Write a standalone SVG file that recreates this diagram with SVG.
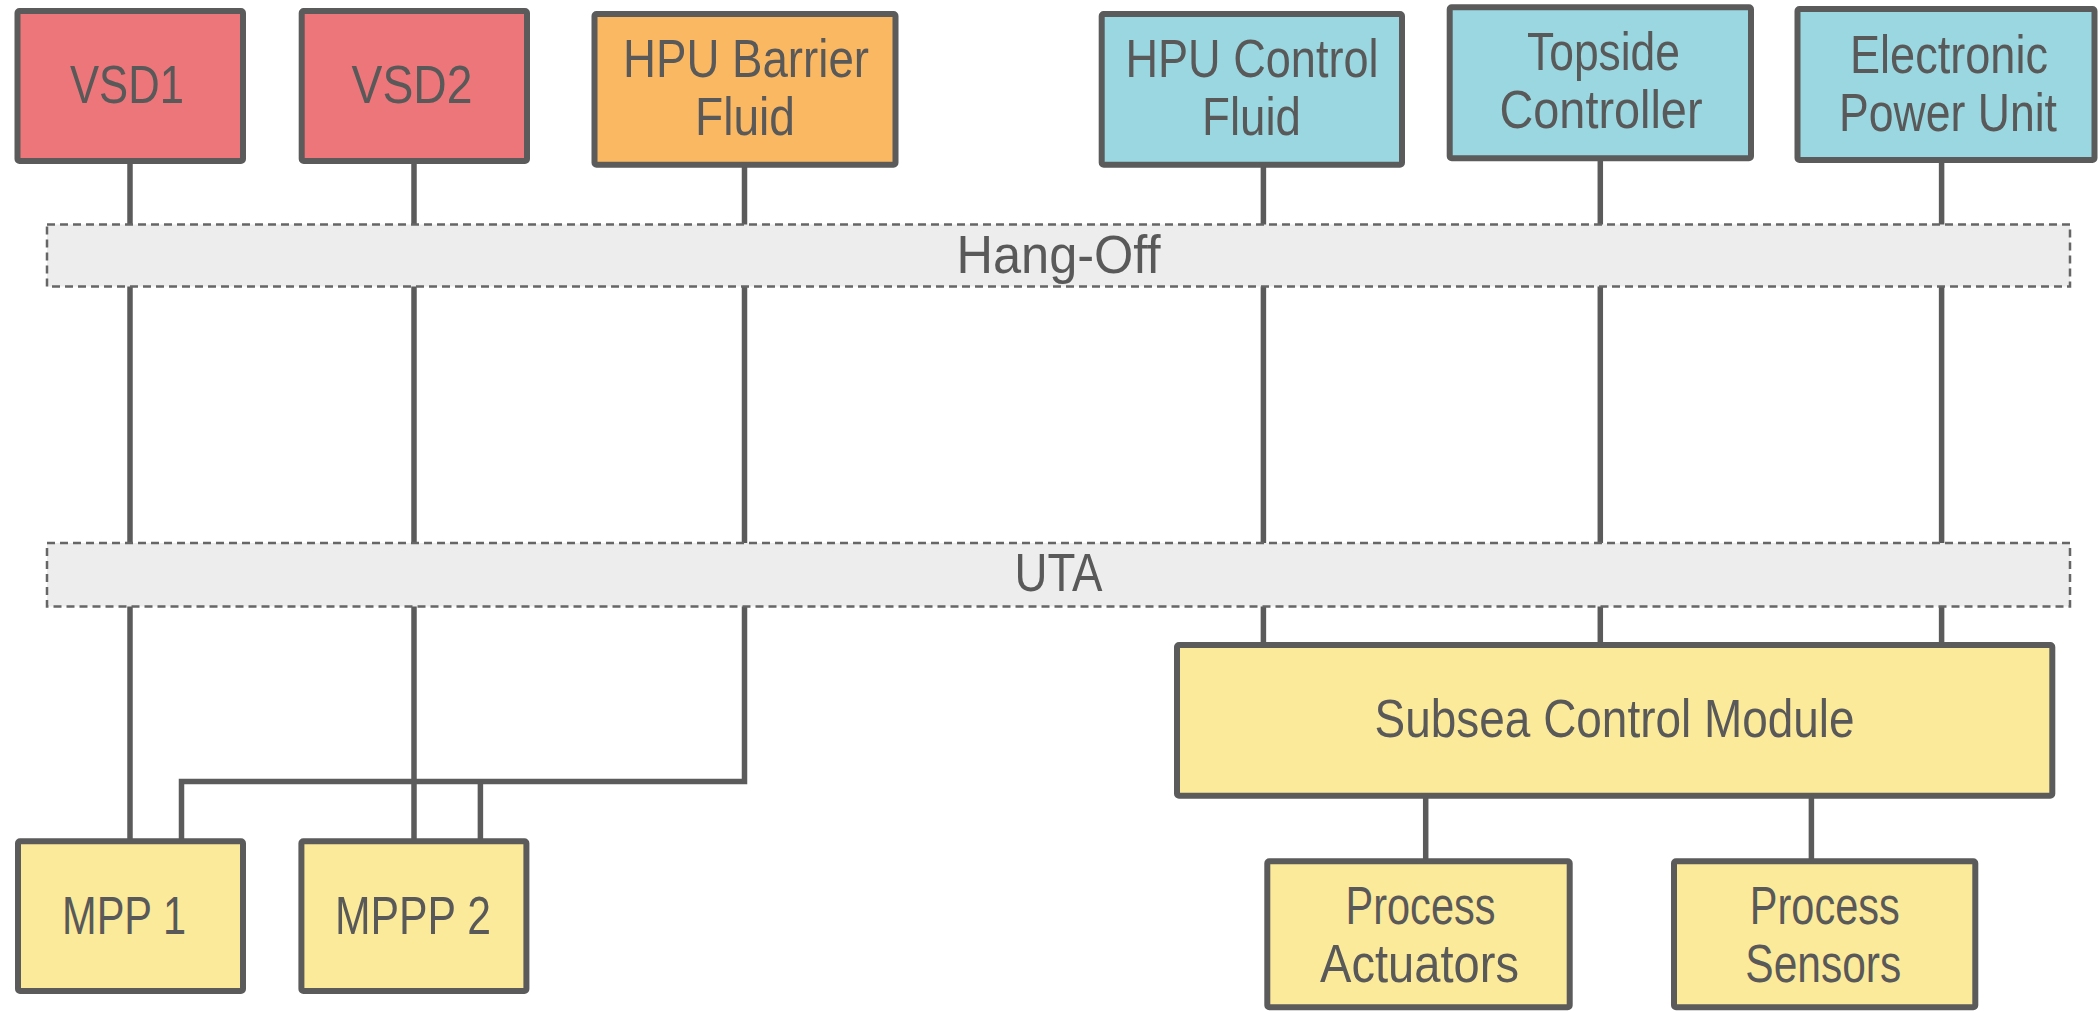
<svg xmlns="http://www.w3.org/2000/svg" width="2098" height="1011" viewBox="0 0 2098 1011">
  <style>
    .box { stroke: #5b5b5b; stroke-width: 6; stroke-linejoin: round; }
    .red { fill: #ec767a; }
    .orange { fill: #fbb862; }
    .blue { fill: #9ad7e0; }
    .yellow { fill: #fcea9b; }
    .band { fill: #ededed; stroke: #666666; stroke-width: 2.5; stroke-dasharray: 8 5; }
    .wire { fill: none; stroke: #5b5b5b; stroke-width: 5.5; stroke-linejoin: miter; }
    .lbl { font-family: "Liberation Sans", Arial, sans-serif; font-size: 54px; fill: #595959; text-anchor: middle; }
  </style>
  <rect width="2098" height="1011" fill="#ffffff"/>

  <!-- wiring between units, drawn first so the bands cover it -->
  <g id="connectors">
    <path class="wire" d="M130 163 V839"/>
    <path class="wire" d="M414 163 V839"/>
    <path class="wire" d="M744.5 167 V781.5 H181.5 V839"/>
    <path class="wire" d="M480.4 781.5 V839"/>
    <path class="wire" d="M1263.4 167 V645"/>
    <path class="wire" d="M1600.3 161 V645"/>
    <path class="wire" d="M1941.6 163 V645"/>
    <path class="wire" d="M1425.7 798 V861"/>
    <path class="wire" d="M1811.4 798 V861"/>
  </g>

  <g id="hang-off">
    <rect class="band" x="47" y="224.5" width="2023" height="62"/>
    <text class="lbl" x="1058.5" y="273" textLength="204" lengthAdjust="spacingAndGlyphs">Hang-Off</text>
  </g>
  <g id="uta">
    <rect class="band" x="47" y="543" width="2023" height="63.5"/>
    <text class="lbl" x="1058.5" y="591" textLength="88" lengthAdjust="spacingAndGlyphs">UTA</text>
  </g>

  <g id="vsd1">
    <rect class="box red" x="17.5" y="11" width="225.5" height="150" rx="2"/>
    <text class="lbl" x="127" y="103" textLength="114" lengthAdjust="spacingAndGlyphs">VSD1</text>
  </g>
  <g id="vsd2">
    <rect class="box red" x="301.7" y="11" width="225.3" height="150" rx="2"/>
    <text class="lbl" x="412" y="103" textLength="121" lengthAdjust="spacingAndGlyphs">VSD2</text>
  </g>
  <g id="hpu-barrier-fluid">
    <rect class="box orange" x="594.5" y="14" width="301" height="150.7" rx="2"/>
    <text class="lbl" x="746" y="77" textLength="246" lengthAdjust="spacingAndGlyphs">HPU Barrier</text>
    <text class="lbl" x="745" y="135" textLength="100" lengthAdjust="spacingAndGlyphs">Fluid</text>
  </g>
  <g id="hpu-control-fluid">
    <rect class="box blue" x="1101.7" y="14" width="300.3" height="150.7" rx="2"/>
    <text class="lbl" x="1252" y="77" textLength="253" lengthAdjust="spacingAndGlyphs">HPU Control</text>
    <text class="lbl" x="1251.5" y="135" textLength="99" lengthAdjust="spacingAndGlyphs">Fluid</text>
  </g>
  <g id="topside-controller">
    <rect class="box blue" x="1449.7" y="7.3" width="301.3" height="151" rx="2"/>
    <text class="lbl" x="1603.5" y="70" textLength="153" lengthAdjust="spacingAndGlyphs">Topside</text>
    <text class="lbl" x="1601" y="128" textLength="203" lengthAdjust="spacingAndGlyphs">Controller</text>
  </g>
  <g id="electronic-power-unit">
    <rect class="box blue" x="1797.5" y="9" width="297" height="151" rx="2"/>
    <text class="lbl" x="1949" y="73" textLength="198" lengthAdjust="spacingAndGlyphs">Electronic</text>
    <text class="lbl" x="1948" y="131" textLength="218" lengthAdjust="spacingAndGlyphs">Power Unit</text>
  </g>
  <g id="subsea-control-module">
    <rect class="box yellow" x="1177" y="645" width="875.3" height="150.7" rx="2"/>
    <text class="lbl" x="1614.6" y="737" textLength="480" lengthAdjust="spacingAndGlyphs">Subsea Control Module</text>
  </g>
  <g id="mpp1">
    <rect class="box yellow" x="18" y="841.3" width="225" height="149.7" rx="2"/>
    <text class="lbl" x="124" y="934" textLength="124" lengthAdjust="spacingAndGlyphs">MPP 1</text>
  </g>
  <g id="mppp2">
    <rect class="box yellow" x="301.4" y="841.3" width="225" height="149.7" rx="2"/>
    <text class="lbl" x="413" y="934" textLength="156" lengthAdjust="spacingAndGlyphs">MPPP 2</text>
  </g>
  <g id="process-actuators">
    <rect class="box yellow" x="1267.3" y="861.3" width="302.4" height="146" rx="2"/>
    <text class="lbl" x="1420.5" y="924" textLength="150" lengthAdjust="spacingAndGlyphs">Process</text>
    <text class="lbl" x="1419.5" y="982" textLength="199" lengthAdjust="spacingAndGlyphs">Actuators</text>
  </g>
  <g id="process-sensors">
    <rect class="box yellow" x="1674" y="861.3" width="301.3" height="146" rx="2"/>
    <text class="lbl" x="1824.8" y="924" textLength="150" lengthAdjust="spacingAndGlyphs">Process</text>
    <text class="lbl" x="1823.3" y="982" textLength="156" lengthAdjust="spacingAndGlyphs">Sensors</text>
  </g>
</svg>
